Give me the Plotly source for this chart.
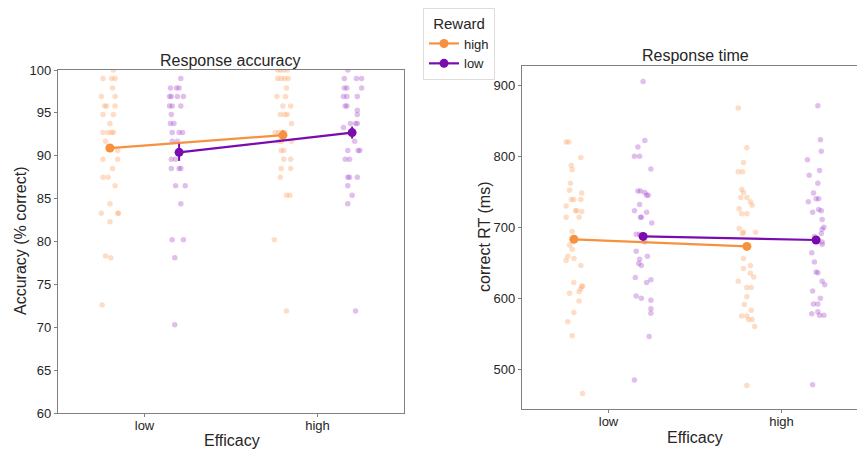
import plotly.graph_objects as go

# ---------------- data ----------------
efficacy_labels = ["low", "high"]
reward_levels = ["high", "low"]

# Accuracy (% correct) per subject, with read jitter offsets
acc_low_rh = [100, 99, 99, 99, 97.9, 96.9, 96.9, 95.8, 95.8, 95.8, 94.8, 94.8, 93.75,
              92.7, 92.7, 92.7, 92.7, 91.7, 90.6, 89.6, 89.6, 88.5, 87.5, 87.5, 86.5,
              84.4, 83.3, 83.3, 83.3, 82.3, 78.3, 78.1, 72.6]
acc_low_rh_jit = [0.02, -0.04, 0.01, 0.03, 0.015, -0.05, 0.03, -0.03, -0.02, 0.03, -0.04, 0.02, 0.0,
                  -0.04, -0.01, 0.01, 0.02, -0.025, 0.045, -0.04, 0.045, 0.015, -0.04, -0.01, 0.03,
                  0.0, -0.05, 0.045, 0.05, 0.0, -0.025, 0.005, -0.045]
acc_low_rl = [99, 97.9, 97.9, 97.9, 96.9, 96.9, 96.9, 96.9, 95.8, 95.8, 95.8, 94.8, 93.75, 93.75,
              92.7, 92.7, 92.7, 91.7, 91.7, 89.6, 89.6, 88.5, 88.5, 88.5, 86.5, 86.5, 84.4,
              80.2, 80.2, 78.1, 70.3]
acc_low_rl_jit = [0.01, -0.05, -0.015, 0.0, -0.055, -0.045, -0.01, 0.025, -0.055, -0.04, 0.01, -0.045, -0.05, -0.03,
                  -0.04, 0.0, 0.02, -0.04, -0.01, -0.045, -0.02, -0.045, 0.0, 0.01, -0.02, 0.035, 0.01,
                  -0.04, 0.025, -0.025, -0.025]
acc_high_rh = [100, 100, 100, 100, 99, 99, 99, 99, 97.9, 96.9, 96.9, 95.8, 95.8, 94.8, 94.8, 94.8,
               93.75, 92.7, 92.7, 92.7, 92.7, 91.7, 91.7, 91.7, 90.6, 90.6, 89.6, 89.6, 88.5, 88.5,
               87.5, 85.4, 85.4, 80.2, 71.9]
acc_high_rh_jit = [-0.03, -0.015, 0.005, 0.025, -0.03, -0.01, 0.01, 0.03, 0.02, -0.035, 0.015, 0.0, 0.045, -0.015, 0.01, 0.025,
                   0.05, -0.045, -0.025, 0.0, 0.01, -0.025, -0.01, 0.05, -0.01, 0.005, 0.005, 0.045, -0.01, 0.045,
                   -0.015, 0.02, 0.04, -0.05, 0.02]
acc_high_rl = [100, 99, 99, 99, 97.9, 97.9, 97.9, 96.9, 96.9, 96.9, 95.8, 95.8, 95.3, 94.8,
               93.75, 93.75, 93.75, 93.3, 91.7, 90.6, 90.6, 90.6, 89.6, 89.6, 87.5, 87.5, 87.5,
               86.5, 85.4, 84.4, 71.9]
acc_high_rl_jit = [-0.025, -0.045, 0.025, 0.055, -0.045, -0.03, 0.055, -0.05, -0.03, 0.03, -0.04, -0.03, 0.03, 0.03,
                   -0.01, 0.02, 0.03, -0.05, 0.015, -0.025, 0.035, 0.045, -0.04, -0.015, -0.025, -0.015, 0.03,
                   -0.025, 0.0, -0.025, 0.02]

# Correct RT (ms) per subject
rt_low_rh = [820, 820, 798, 787, 781, 762, 752, 748, 739, 739, 739, 730, 723, 723, 722, 714, 714,
             694, 675, 669, 659, 656, 653, 646, 622, 617, 617, 613, 609, 607, 596, 580, 567, 547, 466]
rt_low_rh_jit = [-0.045, -0.03, 0.04, -0.015, -0.01, -0.02, -0.025, 0.045, -0.015, 0.0, 0.04, -0.045, 0.01, 0.015, 0.045, -0.045, 0.03,
                 -0.01, -0.025, -0.01, -0.035, 0.0, -0.045, 0.04, 0.0, 0.045, 0.05, 0.04, 0.03, -0.025, 0.03, 0.0, -0.035, -0.01, 0.05]
rt_low_rl = [905, 822, 813, 800, 800, 782, 751, 751, 749, 745, 745, 732, 723, 721, 714, 714, 706,
             690, 690, 679, 666, 659, 655, 649, 646, 629, 626, 622, 603, 600, 597, 585, 579, 546, 485]
rt_low_rl_jit = [0.0, 0.01, -0.03, -0.05, -0.02, 0.045, -0.03, -0.015, 0.01, 0.02, 0.03, -0.02, -0.05, 0.02, -0.015, -0.01, 0.05,
                 -0.04, -0.02, 0.01, -0.04, 0.025, -0.02, -0.025, -0.01, -0.045, 0.045, 0.02, -0.04, -0.01, 0.045, 0.045, 0.045, 0.035, -0.05]
rt_high_rh = [868, 812, 791, 778, 778, 753, 749, 742, 742, 736, 731, 726, 719, 719, 698, 693, 693, 691,
              656, 646, 642, 635, 630, 624, 615, 615, 602, 591, 583, 575, 575, 570, 570, 560, 477]
rt_high_rh_jit = [-0.05, 0.0, -0.02, -0.05, -0.025, -0.03, -0.02, -0.035, 0.0, 0.02, 0.03, -0.045, -0.03, 0.0, -0.045, -0.02, 0.05, -0.025,
                  -0.02, 0.02, -0.02, 0.02, 0.04, -0.05, 0.0, 0.025, 0.0, -0.015, 0.025, -0.03, 0.0, 0.01, 0.03, 0.045, 0.0]
rt_high_rl = [871, 823, 807, 795, 780, 773, 762, 748, 740, 740, 736, 725, 723, 721, 711, 700, 697, 691,
              687, 679, 676, 664, 651, 637, 636, 624, 619, 610, 600, 592, 592, 581, 578, 576, 576, 478]
rt_high_rl_jit = [0.01, 0.025, 0.03, -0.05, 0.02, -0.04, 0.01, -0.015, 0.0, 0.015, -0.045, 0.015, 0.03, -0.02, 0.035, 0.045, 0.035, 0.03,
                  -0.01, 0.035, 0.035, -0.025, -0.01, 0.0, 0.01, 0.035, 0.05, -0.02, 0.025, -0.015, 0.01, 0.01, -0.025, 0.02, 0.045, -0.02]

# Group means and error bars [low efficacy, high efficacy]
acc_mean_rh = [90.9, 92.4]
acc_err_rh = [0.4, 0.6]
acc_mean_rl = [90.4, 92.7]
acc_err_rl = [1.0, 0.7]
rt_mean_rh = [683, 673]
rt_err_rh = [2, 2]
rt_mean_rl = [687, 682]
rt_err_rl = [2, 2]

# ---------------- styling ----------------
ORANGE = "#F7913D"
PURPLE = "#7A0BAE"
ORANGE_PT = "rgba(253,175,120,0.42)"
PURPLE_PT = "rgba(160,60,200,0.33)"
DODGE = 0.2
AXC = "#808080"
TXT = "#262626"
FONT = "Liberation Sans, Arial, sans-serif"

fig = go.Figure()


def strip(vals, jit, cat, dodge, color, xa, ya):
    fig.add_trace(go.Scatter(
        x=[cat + dodge + j for j in jit], y=vals, mode="markers",
        marker=dict(size=5.5, color=color, line=dict(width=0)),
        showlegend=False, hoverinfo="y", xaxis=xa, yaxis=ya))


strip(acc_low_rh, acc_low_rh_jit, 0, -DODGE, ORANGE_PT, "x", "y")
strip(acc_low_rl, acc_low_rl_jit, 0, DODGE, PURPLE_PT, "x", "y")
strip(acc_high_rh, acc_high_rh_jit, 1, -DODGE, ORANGE_PT, "x", "y")
strip(acc_high_rl, acc_high_rl_jit, 1, DODGE, PURPLE_PT, "x", "y")
strip(rt_low_rh, rt_low_rh_jit, 0, -DODGE, ORANGE_PT, "x2", "y2")
strip(rt_low_rl, rt_low_rl_jit, 0, DODGE, PURPLE_PT, "x2", "y2")
strip(rt_high_rh, rt_high_rh_jit, 1, -DODGE, ORANGE_PT, "x2", "y2")
strip(rt_high_rl, rt_high_rl_jit, 1, DODGE, PURPLE_PT, "x2", "y2")


def means(m, e, dodge, color, name, xa, ya, legend):
    fig.add_trace(go.Scatter(
        x=[i + dodge for i in range(len(m))], y=m, mode="lines+markers",
        line=dict(color=color, width=2.2),
        marker=dict(size=9, color=color),
        error_y=dict(type="data", array=e, color=color, thickness=2, width=0),
        name=name, showlegend=legend, legendgroup=name, xaxis=xa, yaxis=ya))


means(acc_mean_rh, acc_err_rh, -DODGE, ORANGE, reward_levels[0], "x", "y", True)
means(acc_mean_rl, acc_err_rl, DODGE, PURPLE, reward_levels[1], "x", "y", True)
means(rt_mean_rh, rt_err_rh, -DODGE, ORANGE, reward_levels[0], "x2", "y2", False)
means(rt_mean_rl, rt_err_rl, DODGE, PURPLE, reward_levels[1], "x2", "y2", False)

W, H = 857, 451
axis_common = dict(showgrid=False, zeroline=False, showline=True, linecolor=AXC, linewidth=1.2,
                   ticks="outside", ticklen=3, tickcolor=AXC, tickwidth=1, automargin=False,
                   tickfont=dict(size=13, color=TXT, family=FONT))

TITLE_FONT = dict(size=16, color=TXT, family=FONT)


def label(text, x, y, angle=0):
    return dict(text=text, x=x / W, y=1 - y / H, xref="paper", yref="paper",
                xanchor="center", yanchor="middle", textangle=angle,
                showarrow=False, font=TITLE_FONT)


fig.update_layout(
    width=W, height=H, margin=dict(l=0, r=0, t=0, b=0, autoexpand=False),
    plot_bgcolor="white", paper_bgcolor="white",
    font=dict(family=FONT, color=TXT),
    xaxis=dict(domain=[58 / W, 404 / W], range=[-0.5, 1.5], tickvals=[0, 1],
               ticktext=efficacy_labels, mirror=True, anchor="y", ticklabelstandoff=-3,
               **axis_common),
    yaxis=dict(domain=[(H - 413) / H, (H - 70) / H], range=[60, 100], dtick=5, mirror=True,
               anchor="x", **axis_common),
    xaxis2=dict(domain=[522 / W, 1.0], range=[-0.5, -0.5 + 335 / 173], tickvals=[0, 1],
                ticktext=efficacy_labels, mirror=True, anchor="y2", ticklabelstandoff=-3,
                **axis_common),
    yaxis2=dict(domain=[(H - 409) / H, (H - 66) / H], range=[444, 927],
                tickvals=[500, 600, 700, 800, 900], anchor="x2", **axis_common),
    legend=dict(x=423 / W, y=1 - 8 / H, xanchor="left", yanchor="top",
                bordercolor="#DDDDDD", borderwidth=1, bgcolor="white",
                title=dict(text="Reward", side="top center", font=dict(size=15, color=TXT, family=FONT)),
                font=dict(size=13, color=TXT, family=FONT), itemwidth=30, tracegroupgap=0),
    annotations=[
        label("Response accuracy", 231, 60),
        label("Response time", 695, 55),
        label("Efficacy", 232, 440),
        label("Efficacy", 695, 437),
        label("Accuracy (% correct)", 20, 241, -90),
        label("correct RT (ms)", 484, 237, -90),
    ],
)

fig.write_html("out.html", config={"displayModeBar": False},
               post_script="document.body.style.margin='0';")
